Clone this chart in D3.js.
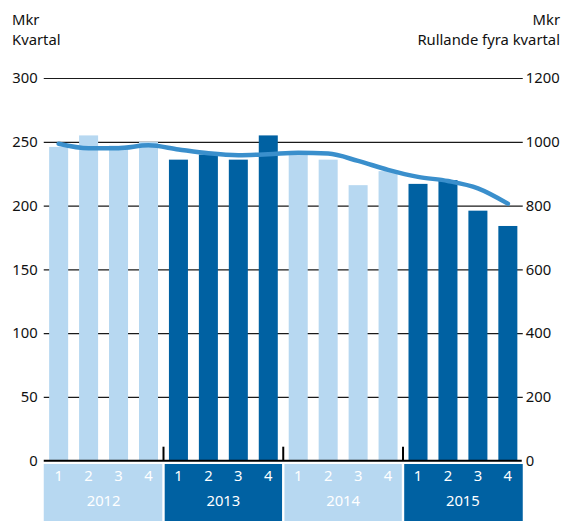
<!DOCTYPE html>
<html>
<head>
<meta charset="utf-8">
<script src="https://cdn.jsdelivr.net/npm/d3@7"></script>
<style>
  body { margin: 0; background: #fff; }
  text { font-family: "Noto Sans", sans-serif; }
</style>
</head>
<body>
<div id="chart"></div>
<script>
// Data
const years = ["2012", "2013", "2014", "2015"]
const quarters = ["1", "2", "3", "4"]
// Kvartal, Mkr (left axis)
const quarterValues = [246, 255, 247, 250, 236, 240, 236, 255, 242, 236, 216, 227, 217, 220, 196, 184]
// Rullande fyra kvartal, Mkr (right axis)
const rollingValues = [994, 980, 980, 989, 976, 964, 958, 961, 966, 963, 940, 912, 890, 877, 854, 806]
const leftTicks = [0, 50, 100, 150, 200, 250, 300]
const rightTicks = [0, 200, 400, 600, 800, 1000, 1200]

// Colours
const lightBlue = "#b7d8f1"
const darkBlue = "#0061a2"
const lineBlue = "#3a8fcc"
const textColor = "#111"

// Dimensions
const width = 563
const height = 521
const plotLeft = 43.75
const plotRight = 522.75
const plotTop = 78
const plotBottom = 460.7
const bandTop = 464
const fontSize = "14.8px"

const svg = d3.select("#chart")
  .append("svg")
    .attr("width", width)
    .attr("height", height)

const periods = []
years.forEach(function(y) {
  quarters.forEach(function(q) { periods.push(y + "-" + q) })
})

const rows = periods.map(function(p, i) {
  return {period: p, year: p.split("-")[0], quarter: p.split("-")[1], value: quarterValues[i], rolling: rollingValues[i]}
})

// Scales
const xScale = d3.scaleBand()
    .domain(periods)
    .range([plotLeft, plotRight])
    .paddingInner(0.365)
    .paddingOuter(0.18)

const yearScale = d3.scaleBand()
    .domain(years)
    .range([plotLeft, plotRight])

const yLeft = d3.scaleLinear()
    .domain([0, 300])
    .range([plotBottom, plotTop])

const yRight = d3.scaleLinear()
    .domain([0, 1200])
    .range([plotBottom, plotTop])

function yearColor(year) {
  return years.indexOf(year) % 2 === 0 ? lightBlue : darkBlue
}

// Grid lines
const grid = svg.append("g")
    .attr("class", "grid")
    .attr("transform", `translate(${plotLeft},0)`)
    .call(
      d3.axisLeft(yLeft)
        .tickValues(leftTicks.slice(1))
        .tickSizeInner(-(plotRight - plotLeft))
        .tickSizeOuter(0)
        .tickFormat(""))
grid.select(".domain").remove()
grid.selectAll("line").attr("stroke", "#1a1a1a").attr("stroke-width", 1.2)

// Bars
svg.selectAll(".bar")
    .data(rows)
    .enter().append("rect")
    .attr("class", "bar")
    .attr("x", function(d) { return xScale(d.period) })
    .attr("y", function(d) { return yLeft(d.value) })
    .attr("width", xScale.bandwidth())
    .attr("height", function(d) { return yLeft(0) - yLeft(d.value) })
    .attr("fill", function(d) { return yearColor(d.year) })

// Rolling line
const line = d3.line()
    .x(function(d) { return xScale(d.period) + xScale.bandwidth() / 2 })
    .y(function(d) { return yRight(d.rolling) })
    .curve(d3.curveMonotoneX)

svg.append("path")
    .datum(rows)
    .attr("fill", "none")
    .attr("stroke", lineBlue)
    .attr("stroke-width", 4.5)
    .attr("stroke-linecap", "round")
    .attr("stroke-linejoin", "round")
    .attr("d", line)

// Zero axis line
svg.append("line")
    .attr("x1", plotLeft)
    .attr("x2", plotRight - 1)
    .attr("y1", yLeft(0))
    .attr("y2", yLeft(0))
    .attr("stroke", "#000")
    .attr("stroke-width", 2)

// Year separator ticks
svg.selectAll(".year-tick")
    .data(years.slice(1))
    .enter().append("line")
    .attr("class", "year-tick")
    .attr("x1", function(d) { return yearScale(d) })
    .attr("x2", function(d) { return yearScale(d) })
    .attr("y1", yLeft(0) - 14)
    .attr("y2", yLeft(0))
    .attr("stroke", "#000")
    .attr("stroke-width", 2)

// Left axis labels
const leftAxis = svg.append("g")
    .attr("transform", `translate(${plotLeft},0)`)
    .call(
      d3.axisLeft(yLeft)
        .tickValues(leftTicks)
        .tickSize(0)
        .tickPadding(6)
        .tickFormat(d3.format("d")))
leftAxis.select(".domain").remove()
leftAxis.selectAll("text")
    .style("font-family", "Noto Sans")
    .style("font-size", fontSize)
    .attr("fill", textColor)

// Right axis labels
const rightAxis = svg.append("g")
    .attr("transform", `translate(${plotRight},0)`)
    .call(
      d3.axisRight(yRight)
        .tickValues(rightTicks)
        .tickSize(0)
        .tickPadding(3)
        .tickFormat(d3.format("d")))
rightAxis.select(".domain").remove()
rightAxis.selectAll("text")
    .style("font-family", "Noto Sans")
    .style("font-size", fontSize)
    .attr("fill", textColor)

// Year bands under the axis
const bands = svg.selectAll(".year-band")
    .data(years)
    .enter().append("g")
    .attr("class", "year-band")

bands.append("rect")
    .attr("x", function(d, i) { return yearScale(d) + (i === 0 ? 0 : 1.2) })
    .attr("y", bandTop)
    .attr("width", function(d, i) {
      let w = yearScale.bandwidth()
      if (i > 0) w -= 1.2
      if (i < years.length - 1) w -= 1.2
      return w
    })
    .attr("height", height - bandTop)
    .attr("fill", function(d) { return yearColor(d) })

bands.append("text")
    .attr("x", function(d) { return yearScale(d) + yearScale.bandwidth() / 2 })
    .attr("y", 506)
    .attr("text-anchor", "middle")
    .style("font-size", fontSize)
    .attr("fill", "#fff")
    .text(function(d) { return d })

svg.selectAll(".quarter-label")
    .data(rows)
    .enter().append("text")
    .attr("class", "quarter-label")
    .attr("x", function(d) { return xScale(d.period) + xScale.bandwidth() / 2 })
    .attr("y", 481)
    .attr("text-anchor", "middle")
    .style("font-size", fontSize)
    .attr("fill", "#fff")
    .text(function(d) { return d.quarter })

// Axis titles
const titles = [
  {x: 12, y: 25, anchor: "start", text: "Mkr"},
  {x: 12, y: 45, anchor: "start", text: "Kvartal"},
  {x: 560, y: 25, anchor: "end", text: "Mkr"},
  {x: 560, y: 45, anchor: "end", text: "Rullande fyra kvartal"},
]
svg.selectAll(".axis-title")
    .data(titles)
    .enter().append("text")
    .attr("class", "axis-title")
    .attr("x", function(d) { return d.x })
    .attr("y", function(d) { return d.y })
    .attr("text-anchor", function(d) { return d.anchor })
    .style("font-size", fontSize)
    .attr("fill", textColor)
    .text(function(d) { return d.text })
</script>
</body>
</html>
